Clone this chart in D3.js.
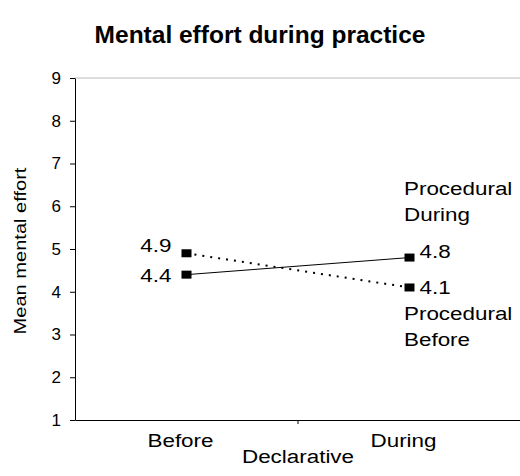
<!DOCTYPE html>
<html>
<head>
<meta charset="utf-8">
<script src="https://cdn.jsdelivr.net/npm/d3@7"></script>
<style>
  body { margin: 0; background: #fff; }
  text { font-family: "Liberation Sans", Arial, sans-serif; fill: #000; }
</style>
</head>
<body>
<div id="chart"></div>
<script>
// Dane wykresu
const categories = ["Before", "During"];
const procDuring = [4.4, 4.8];
const procBefore = [4.9, 4.1];
const yTicks = [1, 2, 3, 4, 5, 6, 7, 8, 9];

const width = 520, height = 476;
const plot = { left: 75, right: 521, top: 78, bottom: 420 };
const stretch = 1.18; // tekst w oryginale jest rozciągnięty w poziomie

const svg = d3.select("#chart").append("svg")
  .attr("width", width)
  .attr("height", height);

const x = d3.scaleBand().domain(categories).range([plot.left, plot.right]);
const y = d3.scaleLinear().domain([1, 9]).range([plot.bottom, plot.top]);

// Pomocnik: tekst rozciągnięty w poziomie
function label(px, py, txt, size, anchor = "start", rot = 0) {
  return svg.append("text")
    .attr("transform", `translate(${px},${py}) rotate(${rot}) scale(${stretch},1)`)
    .attr("text-anchor", anchor)
    .style("font-size", size + "px")
    .text(txt);
}

// Tytuł
svg.append("text")
  .attr("x", 260).attr("y", 43)
  .attr("text-anchor", "middle")
  .style("font-size", "24.5px").style("font-weight", "bold")
  .text("Mental effort during practice");

// Górna krawędź obszaru wykresu
svg.append("line")
  .attr("x1", plot.left).attr("x2", width)
  .attr("y1", plot.top).attr("y2", plot.top)
  .style("stroke", "#bbb");

// Oś Y
const yAxis = svg.append("g")
  .attr("transform", `translate(${plot.left},0)`)
  .call(d3.axisLeft(y).tickValues(yTicks).tickSize(5).tickPadding(9).tickSizeOuter(0));
yAxis.select(".domain").style("stroke", "#000");
yAxis.selectAll("line").style("stroke", "#000");
yAxis.selectAll("text")
  .style("font-size", "17px").style("font-family", "Liberation Sans, Arial, sans-serif");

// Oś X
const xAxis = svg.append("g")
  .attr("transform", `translate(0,${plot.bottom})`)
  .call(d3.axisBottom(x).tickSize(0).tickPadding(14));
xAxis.select(".domain").style("stroke", "#000");
xAxis.selectAll("text")
  .attr("transform", `translate(-6,0) scale(${stretch},1)`)
  .style("font-size", "19px").style("font-family", "Liberation Sans, Arial, sans-serif");

// Znacznik pomiędzy kategoriami
svg.append("line")
  .attr("x1", x("During")).attr("x2", x("During"))
  .attr("y1", plot.bottom).attr("y2", plot.bottom + 4)
  .style("stroke", "#000");

// Podpisy osi
label((plot.left + plot.right) / 2, 463, "Declarative", 19, "middle");
label(26, 251, "Mean mental effort", 17, "middle", -90);

const cx = (d, i) => x(categories[i]) + x.bandwidth() / 2;
const line = d3.line().x(cx).y(d => y(d));

// Serie
svg.append("path").datum(procDuring)
  .attr("d", line)
  .style("fill", "none").style("stroke", "#000").style("stroke-width", 1);

svg.append("path").datum(procBefore)
  .attr("d", line)
  .style("fill", "none").style("stroke", "#000").style("stroke-width", 2)
  .style("stroke-dasharray", "2,6");

// Znaczniki i etykiety wartości (przesunięcia pionowe jak w oryginale)
const labelShift = [
  { series: procDuring, dy: [0, -7] },
  { series: procBefore, dy: [-8, 0] },
];
for (const s of labelShift) {
  svg.selectAll(null).data(s.series).enter()
    .append("rect")
    .attr("x", (d, i) => cx(d, i) - 5)
    .attr("y", d => y(d) - 4)
    .attr("width", 10).attr("height", 8)
    .style("fill", "#000");

  s.series.forEach((d, i) => {
    label(i === 0 ? cx(d, i) - 15 : cx(d, i) + 10, y(d) + 7 + s.dy[i],
      d.toFixed(1), 19, i === 0 ? "end" : "start");
  });
}

// Nazwy serii
const seriesLabels = [
  { lines: ["Procedural", "During"], y0: 195 },
  { lines: ["Procedural", "Before"], y0: 320 },
];
for (const s of seriesLabels) {
  s.lines.forEach((t, k) => label(404, s.y0 + k * 26, t, 19));
}
</script>
</body>
</html>
